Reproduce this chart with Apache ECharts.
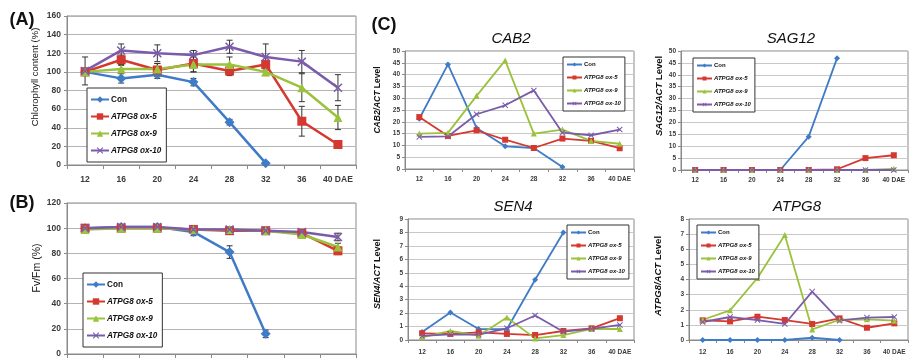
<!DOCTYPE html>
<html><head><meta charset="utf-8">
<script src="https://cdn.jsdelivr.net/npm/echarts@6/dist/echarts.min.js"></script>
<style>html,body{margin:0;padding:0;background:#fff}#c{width:909px;height:363px}</style>
</head><body><div id="c"></div>
<script>
// ---------- data ----------
const categories = ['12','16','20','24','28','32','36','40 DAE'];
const seriesNames = ['Con','ATPG8 ox-5','ATPG8 ox-9','ATPG8 ox-10'];

// (A) Chlorophyll content (%)
const chlCon  = [100, 93, 97, 89, 46, 2, null, null];
const chlOx5  = [100, 113, 102, 109, 101, 108, 47, 22];
const chlOx9  = [100, 103, 103, 108, 108, 100, 83, 51];
const chlOx10 = [101, 123, 120, 118, 127, 116, 111, 83];
const chlErrCon  = [4, 5, 4, 4, 3, 1, null, null];
const chlErrOx5  = [3, 5, 7, 9, 5, 4, 16, 2];
const chlErrOx9  = [3, 4, 6, 8, 8, 4, 15, 13];
const chlErrOx10 = [15, 7, 9, 5, 7, 14, 12, 14];

// (B) Fv/Fm (%)
const fvCon  = [100, 101, 101, 97, 81, 16, null, null];
const fvOx5  = [100, 100, 100, 99, 98, 98, 96, 82];
const fvOx9  = [99, 100, 100, 99, 99, 98, 95, 85];
const fvOx10 = [100, 101, 101, 99, 99, 98, 97, 93];
const fvErrCon  = [1, 1, 1, 3, 5, 3, null, null];
const fvErrOx5  = [1, 1, 1, 1, 1, 1, 1, 3];
const fvErrOx9  = [1, 1, 1, 1, 1, 1, 1, 3];
const fvErrOx10 = [1, 1, 1, 1, 1, 1, 1, 3];

// (C) CAB2/ACT
const cabCon  = [21.3, 44.3, 17.4, 9.6, 8.9, 0.8, null, null];
const cabOx5  = [22, 14, 16.4, 12.4, 8.9, 12.9, 11.9, 8.8];
const cabOx9  = [15, 15.3, 31, 46, 15, 16.7, 11.9, 10.7];
const cabOx10 = [13.6, 13.8, 23.2, 27, 33.3, 15.4, 14.3, 16.7];

// (C) SAG12/ACT
const sagCon  = [0, 0, 0, 0, 14, 47, null, null];
const sagOx5  = [0, 0, 0, 0, 0, 0.3, 5, 6.2];
const sagOx9  = [0, 0, 0, 0, 0, 0, 0, 0.5];
const sagOx10 = [0, 0, 0, 0, 0, 0, 0, 0];

// (C) SEN4/ACT
const senCon  = [0.6, 2.04, 0.82, 0.8, 4.48, 8.0, null, null];
const senOx5  = [0.5, 0.45, 0.57, 0.45, 0.37, 0.67, 0.87, 1.62];
const senOx9  = [0.2, 0.67, 0.32, 1.67, 0.12, 0.37, 0.82, 0.82];
const senOx10 = [0.3, 0.42, 0.4, 0.87, 1.82, 0.62, 0.82, 1.12];

// (C) ATPG8/ACT
const atgCon  = [0, 0, 0, 0, 0.15, 0, null, null];
const atgOx5  = [1.3, 1.23, 1.54, 1.32, 1.06, 1.43, 0.81, 1.1];
const atgOx9  = [1.34, 1.96, 4.1, 6.94, 0.7, 1.34, 1.37, 1.28];
const atgOx10 = [1.19, 1.52, 1.32, 1.06, 3.2, 1.28, 1.48, 1.52];

// ---------- styling ----------
const colors = ['#3F7BC6', '#D5382F', '#9BC23C', '#7B5BAA'];
const xPath = 'path://M0,1.2L1.2,0L5,3.8L8.8,0L10,1.2L6.2,5L10,8.8L8.8,10L5,6.2L1.2,10L0,8.8L3.8,5Z';
const symbols = ['diamond', 'rect', 'triangle', xPath];
const FONT = 'Liberation Sans, Arial, sans-serif';

const panels = [
  {key:'A', grid:{left:67, top:16, width:289, height:149}, min:0, max:160, interval:20,
   data:[chlCon, chlOx5, chlOx9, chlOx10], err:[chlErrCon, chlErrOx5, chlErrOx9, chlErrOx10],
   big:true, showX:true, labelSize:8.5, xMargin:10},
  {key:'B', grid:{left:67, top:203, width:289, height:151}, min:0, max:120, interval:20,
   data:[fvCon, fvOx5, fvOx9, fvOx10], err:[fvErrCon, fvErrOx5, fvErrOx9, fvErrOx10],
   big:true, showX:false, labelSize:8.5, xMargin:10},
  {key:'CAB2', grid:{left:405, top:51, width:229, height:118}, min:0, max:50, interval:5,
   data:[cabCon, cabOx5, cabOx9, cabOx10], big:false, showX:true, labelSize:6.5, xMargin:7},
  {key:'SAG12', grid:{left:681, top:51, width:227, height:119}, min:0, max:50, interval:5,
   data:[sagCon, sagOx5, sagOx9, sagOx10], big:false, showX:true, labelSize:6.5, xMargin:7},
  {key:'SEN4', grid:{left:408, top:219, width:226, height:121}, min:0, max:9, interval:1,
   data:[senCon, senOx5, senOx9, senOx10], big:false, showX:true, labelSize:6.5, xMargin:9},
  {key:'ATPG8', grid:{left:689, top:219, width:219, height:121}, min:0, max:8, interval:1,
   data:[atgCon, atgOx5, atgOx9, atgOx10], big:false, showX:true, labelSize:6.5, xMargin:9}
];

const grids = [], xAxes = [], yAxes = [], series = [];
panels.forEach((p, gi) => {
  grids.push(Object.assign({show:true, borderColor:'#8a8a8a', borderWidth:1, backgroundColor:'transparent'}, p.grid));
  xAxes.push({
    type:'category', gridIndex:gi, data:categories, boundaryGap:true,
    axisLine:{show:true, lineStyle:{color:'#8a8a8a', width:1}},
    axisTick:{show:true, length:p.big?4:3, lineStyle:{color:'#8a8a8a'}},
    axisLabel:{show:p.showX, interval:0, fontSize:p.labelSize, fontWeight:'bold', color:'#3a3a3a', margin:p.xMargin, fontFamily:FONT},
    splitLine:{show:false}
  });
  yAxes.push({
    type:'value', gridIndex:gi, min:p.min, max:p.max, interval:p.interval,
    axisLine:{show:true, lineStyle:{color:'#8a8a8a', width:1}},
    axisTick:{show:true, length:3, lineStyle:{color:'#8a8a8a'}},
    axisLabel:{fontSize:p.labelSize, fontWeight:'bold', color:'#3a3a3a', margin:p.big?6:5, fontFamily:FONT},
    splitLine:{show:true, lineStyle:{color:p.big?'#b4b4b4':'#c8c8c8', width:1}}
  });
  p.data.forEach((arr, si) => {
    series.push({
      name:seriesNames[si], type:'line', xAxisIndex:gi, yAxisIndex:gi,
      data:arr.map(v => v === null ? '-' : v),
      symbol:symbols[si],
      symbolSize:p.big ? (si===0?10:9) : 6,
      lineStyle:{color:colors[si], width:p.big?2.5:1.8},
      itemStyle:{color:colors[si]},
      z:3, animation:false
    });
    if (p.err) {
      const e = p.err[si];
      const d = [];
      arr.forEach((v, i) => { if (v !== null && e[i] !== null) d.push([i, v, e[i]]); });
      series.push({
        type:'custom', xAxisIndex:gi, yAxisIndex:gi, data:d, z:2, animation:false,
        silent:true,
        renderItem:function(params, api){
          const x = api.value(0), v = api.value(1), er = api.value(2);
          const hi = api.coord([x, v + er]), lo = api.coord([x, v - er]);
          const hw = 3, st = {stroke:'#333', lineWidth:1};
          return {type:'group', children:[
            {type:'line', shape:{x1:hi[0], y1:hi[1], x2:lo[0], y2:lo[1]}, style:st},
            {type:'line', shape:{x1:hi[0]-hw, y1:hi[1], x2:hi[0]+hw, y2:hi[1]}, style:st},
            {type:'line', shape:{x1:lo[0]-hw, y1:lo[1], x2:lo[0]+hw, y2:lo[1]}, style:st}
          ]};
        }
      });
    }
  });
});

function mkLegend(left, top, big) {
  const fs = big ? 8.2 : 6;
  return {
    data:seriesNames, orient:'vertical', left:left, top:top,
    backgroundColor:'#fff', borderColor:'#333', borderWidth:1,
    padding: big ? [6, 5, 6, 3] : [3, 4, 3, 3],
    itemGap: big ? 6 : 4,
    itemWidth: big ? 18 : 15, itemHeight: big ? 8 : 5,
    formatter: n => n === 'Con' ? '{n|' + n + '}' : '{i|' + n + '}',
    textStyle:{
      fontFamily:FONT, color:'#111', fontSize:fs, padding:[0,0,0,-3],
      lineHeight: big ? 11 : 9,
      rich:{
        n:{fontWeight:'bold', fontSize:fs, fontFamily:FONT, color:'#111'},
        i:{fontWeight:'bold', fontStyle:'italic', fontSize:fs, fontFamily:FONT, color:'#111'}
      }
    }
  };
}
const legends = [
  mkLegend(87, 88, true),
  mkLegend(83, 273, true),
  mkLegend(563, 57, false),
  mkLegend(693, 58, false),
  mkLegend(567, 225, false),
  mkLegend(697, 225, false)
];

function txt(x, y, text, size, opts) {
  return Object.assign({
    type:'text', x:x, y:y, silent:true, z:10,
    style:Object.assign({text:text, fontSize:size, fontFamily:FONT, fill:'#111',
      align:'center', verticalAlign:'middle', textAlign:'center', textVerticalAlign:'middle'}, opts && opts.style || {})
  }, opts && opts.el || {});
}
function yTitle(x, y, gene, size) {
  return txt(x, y, '{i|' + gene + '/ACT} {n|Level}', size, {
    el:{rotation:Math.PI/2},
    style:{rich:{
      i:{fontStyle:'italic', fontWeight:'bold', fontSize:size, fontFamily:FONT, fill:'#111'},
      n:{fontWeight:'bold', fontSize:size, fontFamily:FONT, fill:'#111'}
    }}
  });
}
const graphics = [
  txt(22, 20, '(A)', 18, {style:{fontWeight:'bold'}}),
  txt(22, 203, '(B)', 18, {style:{fontWeight:'bold'}}),
  txt(384, 25, '(C)', 18, {style:{fontWeight:'bold'}}),
  txt(35, 77, 'Chlorophyll content (%)', 9.5, {el:{rotation:Math.PI/2}}),
  txt(37, 268, 'Fv/Fm (%)', 10.5, {el:{rotation:Math.PI/2}}),
  txt(511, 39, 'CAB2', 15, {style:{fontStyle:'italic'}}),
  txt(791, 39, 'SAG12', 15, {style:{fontStyle:'italic'}}),
  txt(513, 207, 'SEN4', 15, {style:{fontStyle:'italic'}}),
  txt(797, 207, 'ATPG8', 15, {style:{fontStyle:'italic'}}),
  yTitle(378, 100, 'CAB2', 8.5),
  yTitle(659, 96, 'SAG12', 9.5),
  yTitle(378, 274, 'SEN4', 9),
  yTitle(658, 276, 'ATPG8', 9.5)
];

const chart = echarts.init(document.getElementById('c'), null, {renderer:'canvas'});
chart.setOption({
  animation:false,
  backgroundColor:'#fff',
  grid:grids, xAxis:xAxes, yAxis:yAxes, series:series,
  legend:legends,
  graphic:graphics
});
</script>
</body></html>
